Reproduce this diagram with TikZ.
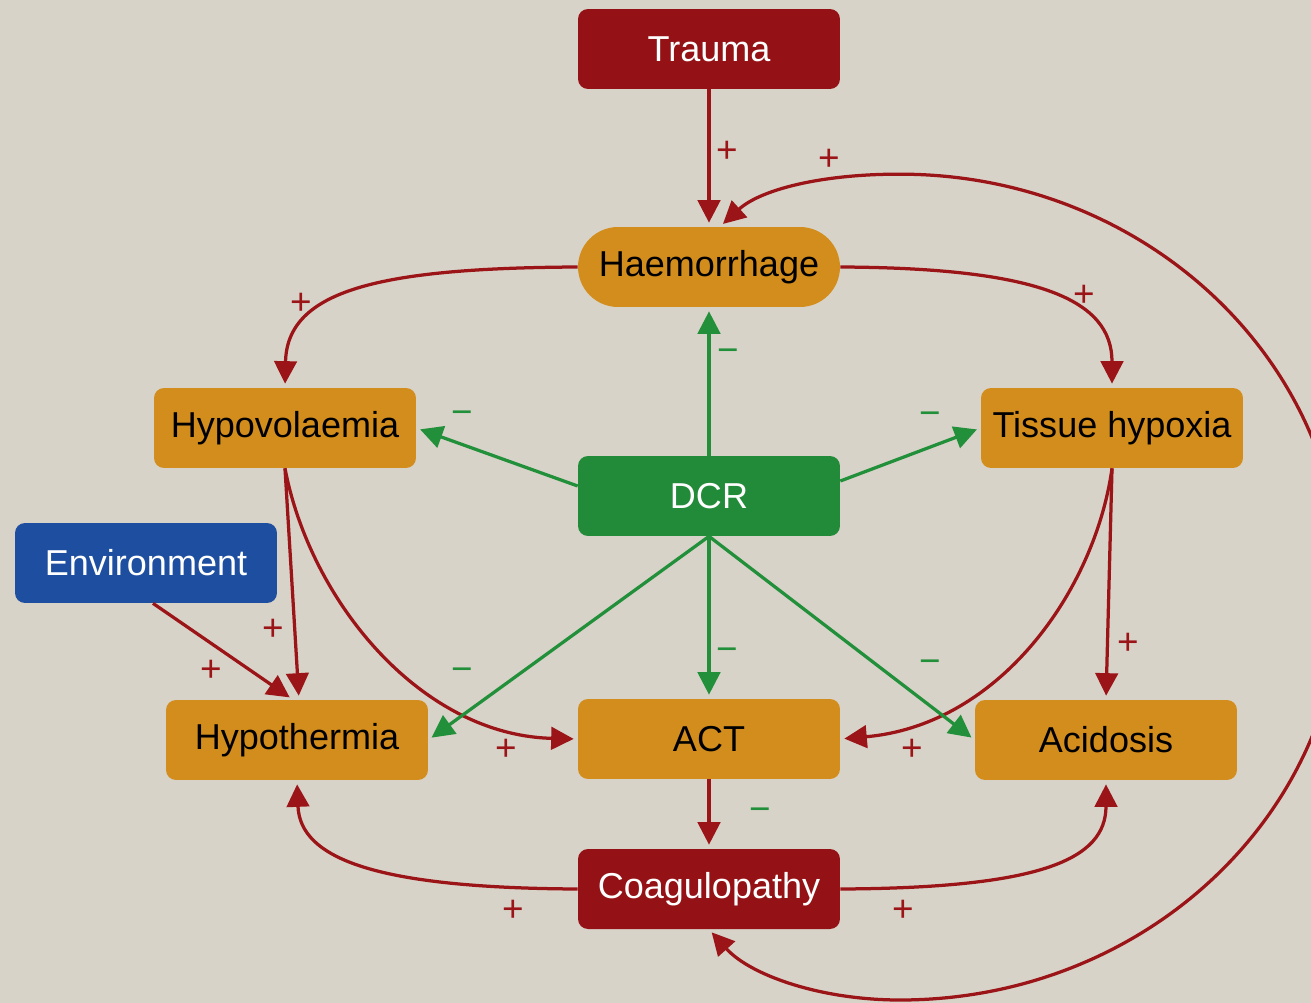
\documentclass[tikz,border=0pt]{standalone}
\usepackage{fontspec}
\setmainfont{Liberation Sans}
\usetikzlibrary{arrows.meta}

\definecolor{bgbeige}{RGB}{216,211,200}
\definecolor{traumared}{RGB}{148,18,22}
\definecolor{amber}{RGB}{211,141,29}
\definecolor{dcrgreen}{RGB}{34,139,58}
\definecolor{envblue}{RGB}{30,78,160}
\definecolor{linkred}{RGB}{155,20,24}
\definecolor{linkgreen}{RGB}{34,144,58}

\tikzset{
	box/.style={rectangle, rounded corners=0.2cm, minimum width=5.24cm,
		minimum height=1.6cm, inner sep=0pt, font=\fontsize{20.5}{24}\selectfont},
	redbox/.style={box, fill=traumared, text=white},
	amberbox/.style={box, fill=amber, text=black},
	greenbox/.style={box, fill=dcrgreen, text=white},
	bluebox/.style={box, fill=envblue, text=white},
	redline/.style={-{Triangle[length=0.45cm,width=0.45cm]}, line width=0.065cm,
		draw=linkred, shorten >=0.08cm},
	greenline/.style={redline, draw=linkgreen},
	plussign/.style={text=linkred, inner sep=0pt, font=\fontsize{21}{24}\selectfont},
	minussign/.style={plussign, text=linkgreen}
}

\begin{document}
\begin{tikzpicture}[x=0.02cm, y=-0.02cm]
		% background
		\fill[bgbeige] (0,0) rectangle (1311,1003);
		\useasboundingbox (0,0) rectangle (1311,1003);
		
		% Nodes
		\node[redbox] (trauma) at (709,49) {Trauma};
		\node[amberbox, rounded corners=0.8cm] (haem) at (709,267) {Haemorrhage};
		\node[amberbox] (hypovol) at (285,428) {Hypovolaemia};
		\node[amberbox] (hypoxia) at (1112,428) {Tissue hypoxia};
		\node[greenbox] (dcr) at (709,496) {DCR};
		\node[bluebox] (env) at (146,563) {Environment};
		\node[amberbox] (hypotherm) at (297,740) {Hypothermia};
		\node[amberbox] (act) at (709,739) {ACT};
		\node[amberbox] (acid) at (1106,740) {Acidosis};
		\node[redbox] (coag) at (709,889) {Coagulopathy};
		
		% positive links
		\draw[redline] (trauma) -- (haem);
		\draw[redline] (haem.west) .. controls (380,268) and (287,290) .. (hypovol.north);
		\draw[redline] (haem.east) .. controls (1040,268) and (1112,300) .. (hypoxia.north);
		\draw[redline] ([xshift=0.14cm]env.south) -- ([xshift=-0.08cm]hypotherm.north);
		\draw[redline] (hypovol.south) -- ([xshift=0.04cm]hypotherm.north);
		\draw[redline] (hypovol.south) .. controls (310,600) and (420,735) .. (act.west);
		\draw[redline] (hypoxia.south) .. controls (1095,590) and (1000,725) .. (act.east);
		\draw[redline] (hypoxia.south) -- (acid.north);
		\draw[redline] (act) -- (coag);
		\draw[redline] (coag.west) .. controls (380,888) and (300,860) .. (hypotherm.south);
		\draw[redline] (coag.east) .. controls (1040,888) and (1106,860) .. (acid.south);
		\draw[redline, {Triangle[length=0.45cm,width=0.45cm]}-{Triangle[length=0.45cm,width=0.45cm]},
			shorten <=0.08cm] (coag.south) .. controls (750,975) and (820,1000) .. (900,1000)
			arc[start angle=-90, end angle=90, x radius=8.84cm, y radius=8.26cm]
			.. controls (820,174) and (760,190) .. ([xshift=0.22cm]haem.north);
		
		% DCR links
		\draw[greenline] (dcr) -- (haem);
		\draw[greenline] ([yshift=0.2cm]dcr.west) -- (hypovol.east);
		\draw[greenline] ([yshift=0.3cm]dcr.east) -- (hypoxia.west);
		\draw[greenline] (dcr.south) -- (hypotherm.east);
		\draw[greenline] (dcr) -- (act);
		\draw[greenline] (dcr.south) -- (acid.west);
		
		% signs
		\node[plussign] (p1) at (727,152) {+};
		\node[plussign] (p2) at (829,160) {+};
		\node[plussign] (p3) at (301,304) {+};
		\node[plussign] (p4) at (1084,296) {+};
		\node[plussign] (p5) at (273,630) {+};
		\node[plussign] (p6) at (211,671) {+};
		\node[plussign] (p7) at (506,750) {+};
		\node[plussign] (p8) at (912,750) {+};
		\node[plussign] (p9) at (1128,644) {+};
		\node[plussign] (p10) at (513,911) {+};
		\node[plussign] (p11) at (903,911) {+};
		\node[minussign] (m1) at (728,356) {−};
		\node[minussign] (m2) at (462,418) {−};
		\node[minussign] (m3) at (930,419) {−};
		\node[minussign] (m4) at (462,675) {−};
		\node[minussign] (m5) at (727,655) {−};
		\node[minussign] (m6) at (930,667) {−};
		\node[minussign] (m7) at (760,815) {−};
	\end{tikzpicture}
\end{document}
